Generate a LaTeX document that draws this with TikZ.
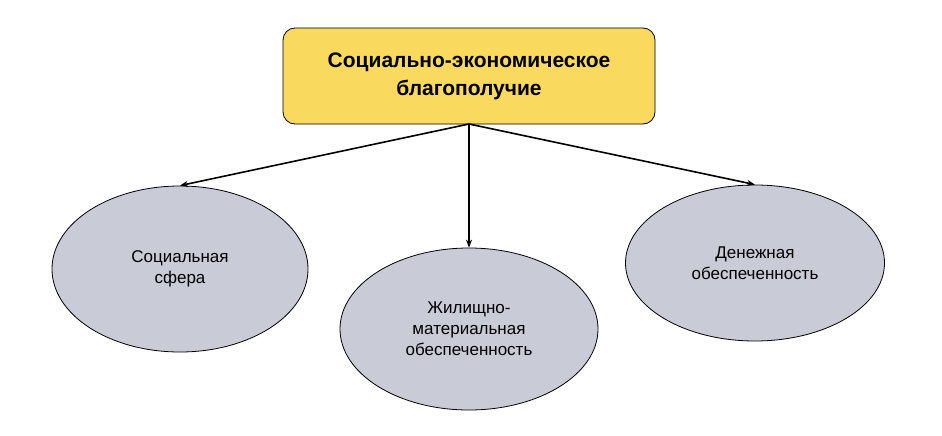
\documentclass[tikz,border=0pt]{standalone}
\usepackage{fontspec}
\setmainfont{Liberation Sans}
\usetikzlibrary{shapes.geometric,arrows.meta}
\definecolor{topfill}{HTML}{FAD95F}
\definecolor{ellfill}{HTML}{C9CCD6}
\begin{document}
\begin{tikzpicture}[x=1pt,y=-1pt,
  ell/.style={ellipse,draw=black,fill=ellfill,line width=0.8pt,align=center,font=\fontsize{17}{21}\selectfont,inner sep=0pt},
  arr/.style={-{Stealth[length=8pt,width=6pt]},line width=1.6pt}]
\useasboundingbox (0,0) rectangle (942,436);
\node[draw=black,fill=topfill,rounded corners=12pt,line width=0.8pt,minimum width=372pt,minimum height=96pt,align=center,font=\fontsize{21}{28}\selectfont\bfseries] (top) at (469,76) {Социально-экономическое\\благополучие};
\node[ell,minimum width=256pt,minimum height=166pt] (l) at (180,269) {Социальная\\сфера};
\node[ell,minimum width=258pt,minimum height=162pt] (m) at (469,329) {Жилищно-\\материальная\\обеспеченность};
\node[ell,minimum width=259pt,minimum height=156pt] (r) at (755,263) {Денежная\\обеспеченность};
\coordinate (s) at (469,124);
\draw[arr] (s) -- (l.north);
\draw[arr] (s) -- (m.north);
\draw[arr] (s) -- (r.north);
\end{tikzpicture}
\end{document}
